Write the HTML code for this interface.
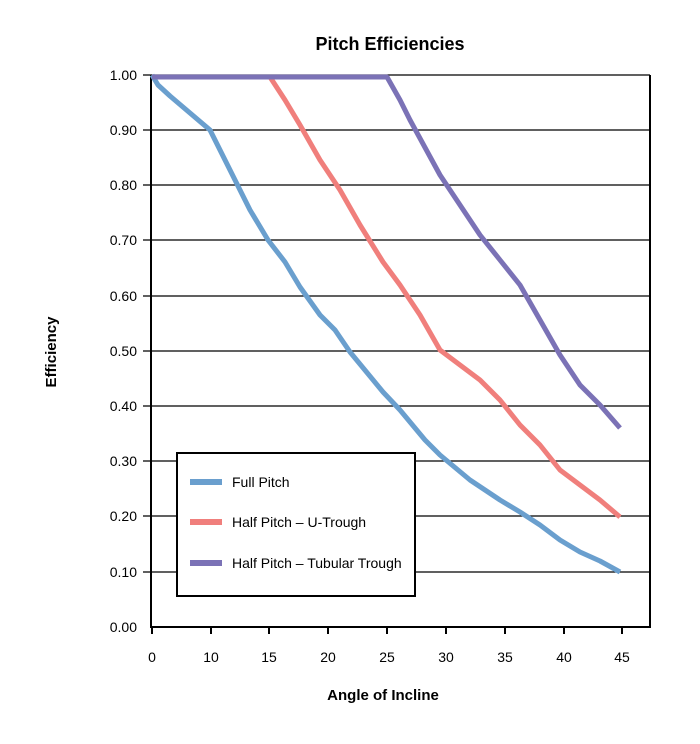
<!DOCTYPE html><html><head><style>body{margin:0;background:#fff}</style></head><body>
<svg width="700" height="739" xmlns="http://www.w3.org/2000/svg" font-family="Liberation Sans, Arial, sans-serif">
<rect width="700" height="739" fill="#fff"/>
<text x="390" y="50" font-size="18" font-weight="bold" text-anchor="middle">Pitch Efficiencies</text>
<g stroke="#000" stroke-width="1.3">
<line x1="143" y1="75" x2="650" y2="75"/><line x1="143" y1="130" x2="650" y2="130"/><line x1="143" y1="185" x2="650" y2="185"/><line x1="143" y1="240" x2="650" y2="240"/><line x1="143" y1="296" x2="650" y2="296"/><line x1="143" y1="351" x2="650" y2="351"/><line x1="143" y1="406" x2="650" y2="406"/><line x1="143" y1="461" x2="650" y2="461"/><line x1="143" y1="516" x2="650" y2="516"/><line x1="143" y1="572" x2="650" y2="572"/>
</g>
<g stroke="#000" stroke-width="2" fill="none">
<polyline points="151,75 151,627 650,627 650,75"/>
<line x1="152" y1="627" x2="152" y2="634"/><line x1="211" y1="627" x2="211" y2="634"/><line x1="269" y1="627" x2="269" y2="634"/><line x1="328" y1="627" x2="328" y2="634"/><line x1="387" y1="627" x2="387" y2="634"/><line x1="446" y1="627" x2="446" y2="634"/><line x1="505" y1="627" x2="505" y2="634"/><line x1="564" y1="627" x2="564" y2="634"/><line x1="622" y1="627" x2="622" y2="634"/>
</g>
<g font-size="14" text-anchor="end">
<text x="137" y="80">1.00</text><text x="137" y="135">0.90</text><text x="137" y="190">0.80</text><text x="137" y="245">0.70</text><text x="137" y="301">0.60</text><text x="137" y="356">0.50</text><text x="137" y="411">0.40</text><text x="137" y="466">0.30</text><text x="137" y="521">0.20</text><text x="137" y="577">0.10</text><text x="137" y="632">0.00</text>
</g>
<g font-size="14" text-anchor="middle">
<text x="152" y="662">0</text><text x="211" y="662">10</text><text x="269" y="662">15</text><text x="328" y="662">20</text><text x="387" y="662">25</text><text x="446" y="662">30</text><text x="505" y="662">35</text><text x="564" y="662">40</text><text x="622" y="662">45</text>
</g>
<text x="383" y="700" font-size="15" font-weight="bold" text-anchor="middle">Angle of Incline</text>
<text transform="translate(56,352) rotate(-90)" font-size="15" font-weight="bold" text-anchor="middle">Efficiency</text>
<g fill="none" stroke-width="5" stroke-linejoin="round">
<polyline stroke="#6a9fce" points="152,75 158,85 170,96 210,130 215,140 230,170 250,210 268,240 285,262 300,287 320,315 335,330 350,352 383,392 400,410 425,440 440,455 470,480 500,500 520,512 540,525 560,540 580,552 600,561 620,572"/>
<polyline stroke="#f07f7c" points="270,77 285,100 300,125 320,160 340,190 360,225 383,262 400,285 420,315 440,350 460,365 480,380 500,400 520,425 540,445 560,470 580,485 600,500 620,517"/>
<polyline stroke="#7b72b6" points="152,77 387,77 400,100 410,120 440,175 460,205 480,235 500,260 520,285 540,320 560,355 580,385 600,405 620,428"/>
</g>
<rect x="177" y="453" width="238" height="143" fill="#fff" stroke="#000" stroke-width="2"/>
<g stroke-width="6"><line x1="190" y1="482" x2="222" y2="482" stroke="#6a9fce"/><line x1="190" y1="522" x2="222" y2="522" stroke="#f07f7c"/><line x1="190" y1="563" x2="222" y2="563" stroke="#7b72b6"/></g>
<g font-size="14"><text x="232" y="487">Full Pitch</text><text x="232" y="527">Half Pitch – U-Trough</text><text x="232" y="568">Half Pitch – Tubular Trough</text></g>
</svg></body></html>
